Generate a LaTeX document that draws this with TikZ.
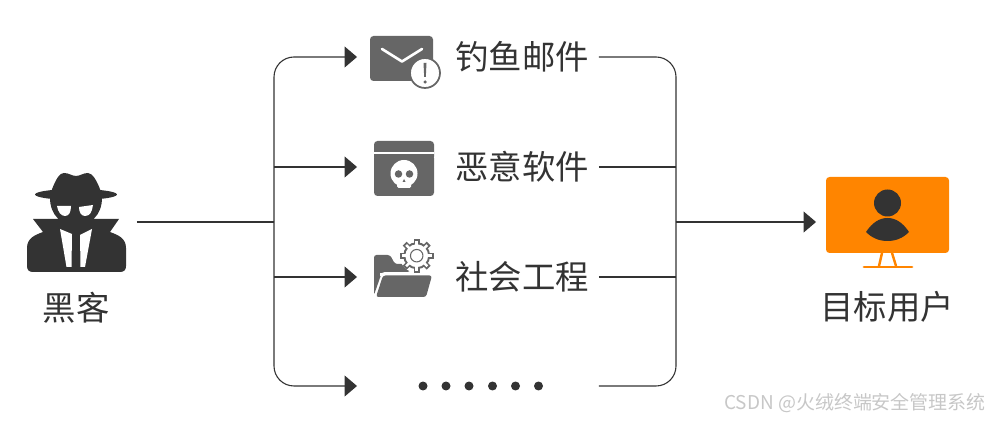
\documentclass[tikz,border=0pt]{standalone}
\usepackage{fontspec}
\usepackage{xcolor}
\usepackage{tikz}
\usetikzlibrary{arrows.meta}
\setmainfont{Noto Sans CJK SC}
\definecolor{ink}{HTML}{333333}
\definecolor{icongray}{HTML}{666666}
\definecolor{screen}{HTML}{FF8500}
\tikzset{
  flow/.style={draw=ink,line width=0.62pt,-{Triangle[length=0.25cm,width=0.42cm,fill=ink]}},
  wire/.style={draw=ink,line width=0.62pt},
  label/.style={text=ink,inner sep=0pt,outer sep=0pt,font=\fontsize{19}{20}\selectfont},
  rowlabel/.style={label,minimum width=3.08cm},
  holder/.style={inner sep=0pt,outer sep=0pt,minimum width=1.92cm,minimum height=1cm},
}
\begin{document}
\begin{tikzpicture}[x=0.02cm,y=-0.02cm]
        \useasboundingbox (0,0) rectangle (989,421);
        % Ends
        \node[inner sep=0pt,outer sep=0pt,minimum width=2.44cm,minimum height=2cm] (hacker) at (76,222) {};
        \node[label] (hackerlabel) at (76,307.5) {黑客};
        \node[inner sep=0pt,outer sep=0pt,minimum width=2.84cm,minimum height=2cm] (target) at (887,222) {};
        \node[label] (targetlabel) at (887,307) {目标用户};
        % Rows
        \node[holder] (mail) at (405,57) {};
        \node[holder] (malware) at (405,167) {};
        \node[holder] (social) at (405,277) {};
        \node[holder] (others) at (405,386) {};
        \node[rowlabel] (maillabel) at (522,57) {钓鱼邮件};
        \node[rowlabel] (malwarelabel) at (522,167) {恶意软件};
        \node[rowlabel] (sociallabel) at (522,277) {社会工程};
        \node[rowlabel] (otherslabel) at (522,386) {};
        % Bus lines
        \coordinate (busleft) at (274,222);
        \coordinate (busright) at (676,222);
        % Edges
        \draw[wire] (hacker) -- (busleft);
        \draw[flow,rounded corners=0.4cm] (busleft) |- (mail.west);
        \draw[flow,rounded corners=0.4cm] (busleft) |- (others.west);
        \draw[flow] (busleft |- malware.west) -- (malware.west);
        \draw[flow] (busleft |- social.west) -- (social.west);
        \draw[wire,rounded corners=0.4cm] (maillabel.east) -| (busright);
        \draw[wire,rounded corners=0.4cm] (otherslabel.east) -| (busright);
        \draw[wire] (malwarelabel.east) -- (malwarelabel.east -| busright);
        \draw[wire] (sociallabel.east) -- (sociallabel.east -| busright);
        \draw[flow] (busright) -- (target);
        % Hacker icon
        \fill[ink] (51,192) .. controls (56,178) and (60,173) .. (64,173) .. controls (69,173) and (72,176) .. (76,176) .. controls (80,176) and (83,173) .. (88,173) .. controls (92,173) and (97,180) .. (101,192) -- cycle;
        \fill[ink] (76,194.5) ellipse [x radius=0.82cm,y radius=0.11cm];
        \fill[ink] (50,198) .. controls (50,215) and (62,226) .. (76,226) .. controls (90,226) and (102,215) .. (102,198) -- cycle;
        \fill[white] (57,206) -- (71,206) .. controls (71,212) and (69,216) .. (65,216) .. controls (61,216) and (58,212) .. (57,206) -- cycle;
        \fill[white] (79,207) -- (93,205) .. controls (92,212) and (90,216) .. (85,216) .. controls (81,216) and (79,212) .. (79,207) -- cycle;
        \fill[ink] (33,219) -- (119,219) -- (110,232) .. controls (118,235) and (126,238) .. (126,248) -- (126,266) .. controls (126,270) and (124,272) .. (120,272) -- (33,272) .. controls (29,272) and (27,270) .. (27,266) -- (27,248) .. controls (27,238) and (35,235) .. (43,232) -- cycle;
        \fill[white] (60,229) -- (72,234) -- (71.5,267) -- (66.5,267) -- cycle;
        \fill[white] (92,229) -- (80,235) -- (80.5,267) -- (85,267) -- cycle;
        % Mail icon
        \fill[icongray,rounded corners=0.07cm] (370,36) rectangle (433,81);
        \draw[white,line width=1.5pt,line cap=round,line join=round] (382,49) -- (402,61.5) -- (422,49);
        \draw[icongray,fill=white,line width=1pt] (425,73) circle [radius=0.3cm];
        \fill[icongray] (423.5,63) -- (426.5,63) -- (425.8,77) -- (424.2,77) -- cycle;
        \fill[icongray] (425,82) circle [radius=0.035cm];
        % Malware icon
        \fill[icongray,rounded corners=0.07cm] (374,160) -- (374,141) -- (434,141) -- (434,160) -- cycle;
        \fill[white] (374,152) rectangle (434,154.5);
        \fill[icongray,rounded corners=0.07cm] (374,154.5) rectangle (434,196);
        \fill[white] (404,173.5) circle [radius=0.27cm];
        \fill[white,rounded corners=0.03cm] (397,180) rectangle (411,188);
        \fill[icongray] (398.5,174) circle [radius=0.075cm];
        \fill[icongray] (409.5,174) circle [radius=0.075cm];
        \fill[icongray] (404,179) -- (402.5,182) -- (405.5,182) -- cycle;
        % Social icon
        \fill[icongray,rounded corners=0.05cm] (374,295) -- (374,255) -- (390,255) -- (395,264) -- (410,264) -- (410,272) -- (382,272) -- cycle;
        \fill[white] (416.7,255.7) circle [radius=0.34cm];
        \draw[icongray,line width=1.1pt] (416.7,255.7) circle [radius=0.25cm];
        \foreach \ang in {0,45,...,315}
          \draw[icongray,line width=3.2pt] (416.7,255.7) ++(\ang:0.25cm) -- ++(\ang:0.09cm);
        \foreach \ang in {0,45,...,315}
          \draw[white,line width=1.4pt] (416.7,255.7) ++(\ang:0.2cm) -- ++(\ang:0.1cm);
        \draw[icongray,line width=0.6pt] (416.7,255.7) circle [radius=0.125cm];
        \fill[white] (380,273) rectangle (434,276);
        \fill[icongray,rounded corners=0.05cm] (383,275.5) -- (432,275.5) -- (426,297) -- (376,297) -- cycle;
        % Dots
        \foreach \px in {423,446,469,492.5,515.5,538.5}
          \fill[ink] (\px,386) circle [radius=0.09cm];
        % Monitor icon
        \fill[screen,rounded corners=0.07cm] (826,177) rectangle (949,253);
        \draw[screen,line width=1.4pt] (882,253) -- (879,266);
        \draw[screen,line width=1.4pt] (892,253) -- (896,266);
        \draw[screen,line width=1.6pt,line cap=round] (864,267) -- (912,267);
        \fill[ink] (887.5,203) circle [radius=0.27cm];
        \fill[ink] (866,232) .. controls (872,223) and (879,218) .. (887.5,218) .. controls (896,218) and (903,223) .. (909,232) .. controls (903,238) and (896,241) .. (887.5,241) .. controls (879,241) and (872,238) .. (866,232) -- cycle;
        % Watermark
        \node[text=black!22,inner sep=0pt,font=\fontsize{10.8}{12}\selectfont] (mark) at (855,403) {CSDN @火绒终端安全管理系统};
    \end{tikzpicture}
\end{document}
